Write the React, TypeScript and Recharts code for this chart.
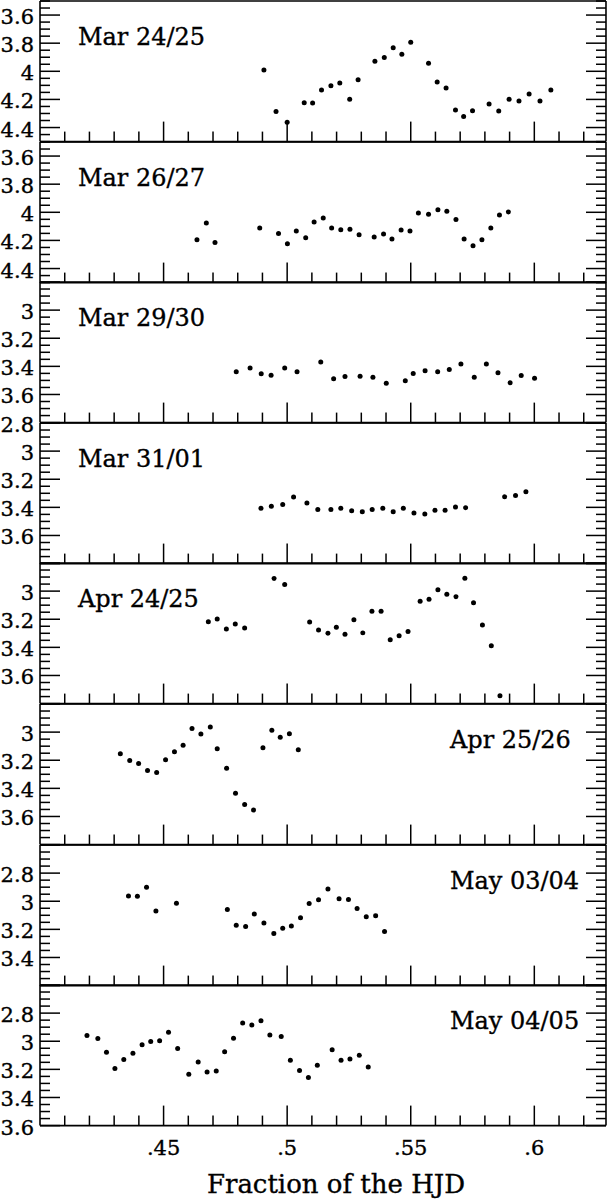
import React from 'react'
import { ScatterChart, Scatter, XAxis, YAxis, Customized } from 'recharts'

// fraction of HJD, magnitude — one list per night
const mar2425: [number, number][] = [
  [0.4906, 3.99], [0.4955, 4.286], [0.5, 4.362], [0.5069, 4.224], [0.5103, 4.226],
  [0.5139, 4.133], [0.5177, 4.102], [0.5213, 4.083], [0.5253, 4.198], [0.5287, 4.06],
  [0.5355, 3.929], [0.5393, 3.902], [0.5429, 3.833], [0.5464, 3.879], [0.55, 3.793],
  [0.5572, 3.943], [0.5607, 4.076], [0.5643, 4.119], [0.5681, 4.276], [0.5714, 4.321],
  [0.575, 4.281], [0.5817, 4.233], [0.5856, 4.283], [0.5898, 4.198], [0.5938, 4.212],
  [0.5979, 4.162], [0.6023, 4.212], [0.6067, 4.133],
]
const mar2627: [number, number][] = [
  [0.4635, 4.195], [0.4673, 4.076], [0.4708, 4.214], [0.4889, 4.112], [0.4965, 4.15],
  [0.5001, 4.224], [0.5037, 4.133], [0.5075, 4.181], [0.5109, 4.069], [0.5146, 4.04],
  [0.518, 4.112], [0.5217, 4.124], [0.5254, 4.121], [0.5291, 4.16], [0.5352, 4.176],
  [0.539, 4.155], [0.5424, 4.19], [0.5461, 4.126], [0.5497, 4.133], [0.5531, 4.005],
  [0.5572, 4.014], [0.561, 3.981], [0.5646, 3.993], [0.5683, 4.052], [0.5716, 4.19],
  [0.5752, 4.238], [0.5788, 4.195], [0.5824, 4.112], [0.5859, 4.019], [0.5895, 3.998],
]
const mar2930: [number, number][] = [
  [0.4794, 3.439], [0.485, 3.411], [0.4895, 3.453], [0.4935, 3.463], [0.499, 3.411],
  [0.504, 3.439], [0.5136, 3.369], [0.5188, 3.488], [0.5234, 3.472], [0.5295, 3.47],
  [0.5347, 3.477], [0.5401, 3.521], [0.5478, 3.502], [0.551, 3.451], [0.5558, 3.432],
  [0.5609, 3.439], [0.5656, 3.423], [0.5703, 3.383], [0.5757, 3.477], [0.5806, 3.383],
  [0.5853, 3.446], [0.5902, 3.516], [0.5947, 3.465], [0.6001, 3.484],
]
const mar3101: [number, number][] = [
  [0.4894, 3.407], [0.4936, 3.393], [0.4982, 3.379], [0.5026, 3.327], [0.508, 3.369],
  [0.5124, 3.416], [0.5177, 3.416], [0.5217, 3.407], [0.5261, 3.424], [0.5304, 3.431],
  [0.5344, 3.416], [0.5387, 3.407], [0.5429, 3.431], [0.547, 3.407], [0.5513, 3.44],
  [0.5557, 3.447], [0.5598, 3.421], [0.5639, 3.421], [0.5681, 3.398], [0.5722, 3.402],
  [0.588, 3.325], [0.5924, 3.315], [0.5966, 3.289],
]
const apr2425: [number, number][] = [
  [0.4681, 3.217], [0.4717, 3.199], [0.4754, 3.269], [0.479, 3.234], [0.4828, 3.262],
  [0.4947, 2.911], [0.499, 2.953], [0.5091, 3.22], [0.5127, 3.276], [0.5165, 3.299],
  [0.5199, 3.257], [0.5234, 3.306], [0.527, 3.203], [0.5306, 3.297], [0.5343, 3.143],
  [0.538, 3.143], [0.5417, 3.346], [0.5453, 3.318], [0.5489, 3.287], [0.5538, 3.072],
  [0.5574, 3.058], [0.561, 2.991], [0.5646, 3.023], [0.5683, 3.04], [0.5719, 2.909],
  [0.5754, 3.082], [0.579, 3.241], [0.5826, 3.388], [0.5861, 3.745],
]
const apr2526: [number, number][] = [
  [0.4325, 3.154], [0.4363, 3.201], [0.4399, 3.224], [0.4435, 3.273], [0.4472, 3.287],
  [0.4508, 3.196], [0.4544, 3.14], [0.4579, 3.093], [0.4615, 2.974], [0.4651, 3.014],
  [0.4689, 2.963], [0.4717, 3.119], [0.4755, 3.257], [0.4791, 3.435], [0.4828, 3.514],
  [0.4864, 3.554], [0.4902, 3.112], [0.4938, 2.986], [0.4972, 3.037], [0.5009, 3.012],
  [0.5045, 3.126],
]
const may0304: [number, number][] = [
  [0.4358, 2.962], [0.4394, 2.964], [0.4431, 2.901], [0.4469, 3.07], [0.4552, 3.014],
  [0.4758, 3.058], [0.4794, 3.171], [0.4832, 3.18], [0.4867, 3.091], [0.4906, 3.154],
  [0.4946, 3.23], [0.4982, 3.192], [0.5017, 3.176], [0.5054, 3.117], [0.5089, 3.016],
  [0.5127, 2.99], [0.5165, 2.913], [0.521, 2.983], [0.5248, 2.988], [0.5283, 3.051],
  [0.532, 3.11], [0.5358, 3.103], [0.5394, 3.215],
]
const may0405: [number, number][] = [
  [0.419, 2.96], [0.4234, 2.981], [0.4269, 3.079], [0.4303, 3.194], [0.4339, 3.129],
  [0.4376, 3.086], [0.4413, 3.025], [0.4448, 3.002], [0.4484, 2.997], [0.452, 2.936],
  [0.4557, 3.051], [0.4602, 3.234], [0.464, 3.147], [0.4676, 3.218], [0.4713, 3.211],
  [0.4747, 3.075], [0.4783, 2.978], [0.482, 2.87], [0.4857, 2.885], [0.4894, 2.854],
  [0.493, 2.955], [0.4976, 2.967], [0.5013, 3.136], [0.505, 3.208], [0.5086, 3.258],
  [0.5122, 3.171], [0.5182, 3.061], [0.5218, 3.136], [0.5254, 3.126], [0.5292, 3.1],
  [0.5328, 3.183],
]

const xTicks = [
  0.41, 0.42, 0.43, 0.44, 0.45, 0.46, 0.47, 0.48, 0.49, 0.5, 0.51,
  0.52, 0.53, 0.54, 0.55, 0.56, 0.57, 0.58, 0.59, 0.6, 0.61, 0.62,
]
const yTicksHigh = [
  3.5, 3.55, 3.6, 3.65, 3.7, 3.75, 3.8, 3.85, 3.9, 3.95, 4,
  4.05, 4.1, 4.15, 4.2, 4.25, 4.3, 4.35, 4.4, 4.45, 4.5,
]
const yTicksMid = [
  2.8, 2.85, 2.9, 2.95, 3, 3.05, 3.1, 3.15, 3.2, 3.25, 3.3,
  3.35, 3.4, 3.45, 3.5, 3.55, 3.6, 3.65, 3.7, 3.75, 3.8,
]
const yTicksLow = [
  2.6, 2.65, 2.7, 2.75, 2.8, 2.85, 2.9, 2.95, 3, 3.05, 3.1,
  3.15, 3.2, 3.25, 3.3, 3.35, 3.4, 3.45, 3.5, 3.55, 3.6,
]

const panels = [
  { title: 'Mar 24/25', pts: mar2425, domain: [3.5, 4.5], ticks: yTicksHigh, labels: [3.6, 3.8, 4, 4.2, 4.4], right: false },
  { title: 'Mar 26/27', pts: mar2627, domain: [3.5, 4.5], ticks: yTicksHigh, labels: [3.6, 3.8, 4, 4.2, 4.4], right: false },
  { title: 'Mar 29/30', pts: mar2930, domain: [2.8, 3.8], ticks: yTicksMid, labels: [3, 3.2, 3.4, 3.6], right: false },
  { title: 'Mar 31/01', pts: mar3101, domain: [2.8, 3.8], ticks: yTicksMid, labels: [2.8, 3, 3.2, 3.4, 3.6], right: false },
  { title: 'Apr 24/25', pts: apr2425, domain: [2.8, 3.8], ticks: yTicksMid, labels: [3, 3.2, 3.4, 3.6], right: false },
  { title: 'Apr 25/26', pts: apr2526, domain: [2.8, 3.8], ticks: yTicksMid, labels: [3, 3.2, 3.4, 3.6], right: true },
  { title: 'May 03/04', pts: may0304, domain: [2.6, 3.6], ticks: yTicksLow, labels: [2.8, 3, 3.2, 3.4], right: true },
  { title: 'May 04/05', pts: may0405, domain: [2.6, 3.6], ticks: yTicksLow, labels: [2.8, 3, 3.2, 3.4, 3.6], right: true },
]

const W = 608
const H = 1202
const TOP = 1
const PANEL_H = 140.6
const PAD = 14
const X_DOMAIN: [number, number] = [0.4, 0.629]
const FONT = '"DejaVu Serif", serif'
const AXIS = { stroke: '#000', strokeWidth: 1.6 }
const MAJOR = 20
const MINOR = 10
// scanned original is a bit heavier than the plain font
const INK = { fill: '#000', stroke: '#000', strokeWidth: 0.35 }

const near = (a: number, b: number) => Math.abs(a - b) < 1e-6
const majorX = (v: number) => near(v * 20, Math.round(v * 20))
const majorY = (v: number) => near(v * 5, Math.round(v * 5))
const fmtX = (v: number) => String(v).replace(/^0/, '')

const BottomTick = ({ x, y, payload, showLabel }: any) => {
  const v = payload.value
  const len = majorX(v) ? MAJOR : MINOR
  return (
    <g>
      <line x1={x} y1={y} x2={x} y2={y - len} stroke="#000" strokeWidth={1.5} />
      {showLabel && majorX(v) && (
        <text x={x} y={y + 29} textAnchor="middle" fontFamily={FONT} fontSize={21} {...INK}>
          {fmtX(v)}
        </text>
      )}
    </g>
  )
}

const TopTick = ({ x, y, payload }: any) => {
  const len = majorX(payload.value) ? MAJOR : MINOR
  return <line x1={x} y1={y} x2={x} y2={y + len} stroke="#000" strokeWidth={1.5} />
}

const LeftTick = ({ x, y, payload, labels }: any) => {
  const v = payload.value
  const len = majorY(v) ? MAJOR : MINOR
  const show = labels.some((l: number) => near(l, v))
  return (
    <g>
      <line x1={x} y1={y} x2={x + len} y2={y} stroke="#000" strokeWidth={1.5} />
      {show && (
        <text x={x - 6} y={y + 9} textAnchor="end" fontFamily={FONT} fontSize={21} {...INK}>
          {String(v)}
        </text>
      )}
    </g>
  )
}

const RightTick = ({ x, y, payload }: any) => {
  const len = majorY(payload.value) ? MAJOR : MINOR
  return <line x1={x} y1={y} x2={x - len} y2={y} stroke="#000" strokeWidth={1.5} />
}

const Dot = (props: any) => <circle cx={props.cx} cy={props.cy} r={2.5} fill="#000" />

function Panel({ p, index }: { p: (typeof panels)[number]; index: number }) {
  const last = index === panels.length - 1
  const top = TOP + index * PANEL_H
  const bottomH = last ? H - (top + PANEL_H) : PAD
  const h = PAD + PANEL_H + bottomH
  const data = p.pts.map(([x, y]) => ({ x, y }))

  return (
    <div style={{ position: 'absolute', left: 0, top: top - PAD, width: W, height: h }}>
      <ScatterChart width={W} height={h} margin={{ top: 0, right: 0, bottom: 0, left: 0 }}>
        <XAxis
          xAxisId="b" dataKey="x" type="number" domain={X_DOMAIN} allowDataOverflow
          ticks={xTicks} interval={0} height={bottomH} tickSize={0} tickMargin={0}
          axisLine={AXIS} tickLine={false}
          tick={(t: any) => <BottomTick {...t} showLabel={last} />}
        />
        <XAxis
          xAxisId="t" orientation="top" type="number" domain={X_DOMAIN} allowDataOverflow
          ticks={xTicks} interval={0} height={PAD} tickSize={0} tickMargin={0}
          axisLine={AXIS} tickLine={false} tick={(t: any) => <TopTick {...t} />}
        />
        <YAxis
          yAxisId="l" dataKey="y" type="number" domain={p.domain} reversed allowDataOverflow
          ticks={p.ticks} interval={0} width={40} tickSize={0} tickMargin={0}
          axisLine={AXIS} tickLine={false}
          tick={(t: any) => <LeftTick {...t} labels={p.labels} />}
        />
        <YAxis
          yAxisId="r" orientation="right" type="number" domain={p.domain} reversed allowDataOverflow
          ticks={p.ticks} interval={0} width={2} tickSize={0} tickMargin={0}
          axisLine={AXIS} tickLine={false} tick={(t: any) => <RightTick {...t} />}
        />
        <Scatter xAxisId="b" yAxisId="l" data={data} shape={Dot} isAnimationActive={false} />
        <Customized
          component={() => (
            <g>
              <text x={p.right ? 450 : 78} y={PAD + 44} fontFamily={FONT} fontSize={24} {...INK}>
                {p.title}
              </text>
              {last && (
                <text
                  x={336} y={1193 - (top - PAD)} textAnchor="middle"
                  fontFamily={FONT} fontSize={26} {...INK}
                >
                  Fraction of the HJD
                </text>
              )}
            </g>
          )}
        />
      </ScatterChart>
    </div>
  )
}

export default function App() {
  return (
    <div style={{ position: 'relative', width: W, height: H, background: '#fff' }}>
      <style>{'body{margin:0}'}</style>
      {panels.map((p, i) => (
        <Panel key={p.title} p={p} index={i} />
      ))}
    </div>
  )
}
